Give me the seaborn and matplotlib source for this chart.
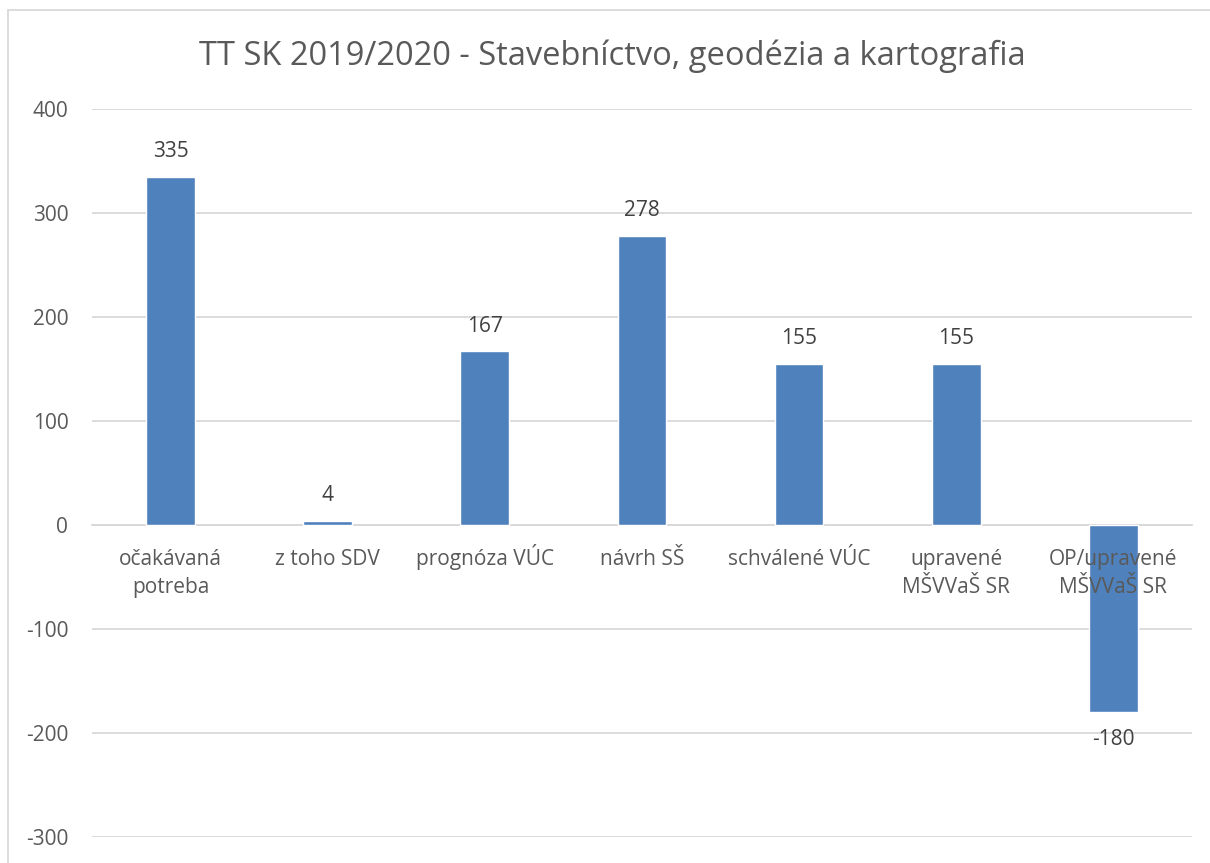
import pandas as pd
import seaborn as sns
import matplotlib.pyplot as plt
from matplotlib.lines import Line2D

categories = ["očakávaná\npotreba", "z toho SDV", "prognóza VÚC", "návrh SŠ",
              "schválené VÚC", "upravené\nMŠVVaŠ SR", "OP/upravené\nMŠVVaŠ SR"]
values = [335, 4, 167, 278, 155, 155, -180]
yticks = [-300, -200, -100, 0, 100, 200, 300, 400]

df = pd.DataFrame({"kategoria": categories, "pocet": values})

sns.set_style("white")
plt.rcParams['font.family'] = ['Open Sans', 'DejaVu Sans']

fig = plt.figure(figsize=(12.1, 8.63), dpi=100)
ax = fig.add_axes([0.076, 0.0301, 0.909, 0.8436])

sns.barplot(data=df, x="kategoria", y="pocet", color="#4F81BD", width=0.31,
            saturation=1, ax=ax, zorder=3)

ax.set_ylim(-300, 400)
ax.set_yticks(yticks)
ax.set_yticklabels([str(t) for t in yticks])
ax.grid(axis="y", color="#D9D9D9", linewidth=1.3)
ax.set_axisbelow(True)
ax.xaxis.set_zorder(4)  # category labels drawn over the negative bar
for s in ["left", "right", "top"]:
    ax.spines[s].set_visible(False)
ax.spines["bottom"].set_position(("data", 0))
ax.spines["bottom"].set_color("#D9D9D9")
ax.spines["bottom"].set_linewidth(1.3)
ax.spines["bottom"].set_zorder(2)

# pad single-line labels with an empty second line so first lines share a baseline
ax.set_xticks(range(len(categories)))
ax.set_xticklabels([c if "\n" in c else c + "\n " for c in categories])
ax.tick_params(axis="y", length=0, pad=17, labelsize=15, labelcolor="#595959")
ax.tick_params(axis="x", length=0, pad=49, labelsize=15, labelcolor="#595959")
for lab in ax.get_xticklabels():
    lab.set_linespacing(1.45)
    lab.set_verticalalignment("baseline")
ax.set_xlabel("")
ax.set_ylabel("")

for i, v in enumerate(values):
    off = 18 if v >= 0 else -20
    ax.annotate(str(v), (i, v), xytext=(0, off), textcoords="offset points",
                ha="center", va="center", fontsize=15, color="#404040", zorder=5)

fig.text(0.506, 0.935, "TT SK 2019/2020 - Stavebníctvo, geodézia a kartografia",
         ha="center", va="center", fontsize=23.5, color="#595959")

# chart frame (left and top edge visible)
fig.add_artist(Line2D([8 / 1210, 8 / 1210], [0, 1 - 10 / 863], color="#D9D9D9",
                      linewidth=1.3, transform=fig.transFigure))
fig.add_artist(Line2D([8 / 1210, 1], [1 - 10 / 863, 1 - 10 / 863], color="#D9D9D9",
                      linewidth=1.3, transform=fig.transFigure))

fig.savefig("out.png", dpi=100)
